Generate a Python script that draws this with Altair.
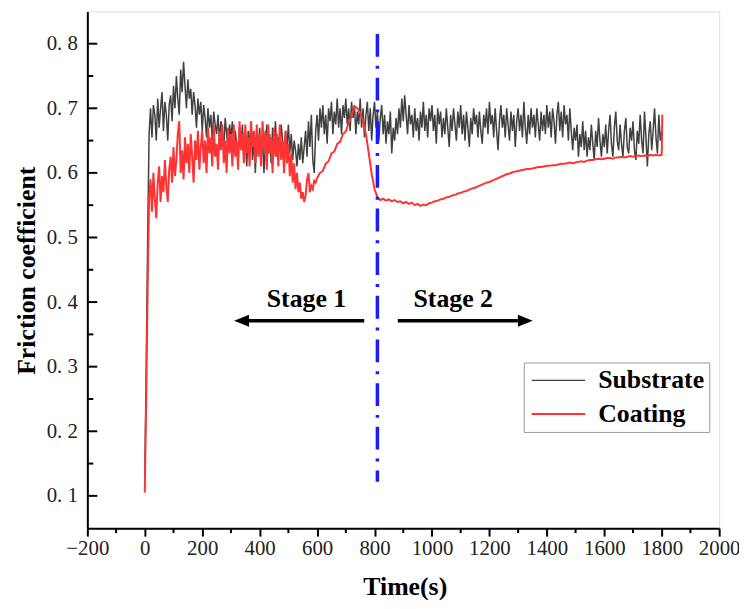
import altair as alt
import pandas as pd

# ---------------- data ----------------
substrate_time = list(range(0, 1801, 5))
substrate_mu = [
    # 0-95
    0.130, 0.300, 0.500, 0.660, 0.700, 0.655, 0.705, 0.690, 0.650, 0.715,
    0.670, 0.700, 0.725, 0.665, 0.710, 0.690, 0.650, 0.705, 0.720, 0.680,
    # 100-195
    0.735, 0.700, 0.750, 0.715, 0.690, 0.760, 0.725, 0.772, 0.735, 0.700,
    0.745, 0.715, 0.730, 0.690, 0.725, 0.705, 0.670, 0.715, 0.690, 0.710,
    # 200-295
    0.665, 0.705, 0.685, 0.655, 0.700, 0.670, 0.690, 0.650, 0.695, 0.675,
    0.660, 0.690, 0.650, 0.680, 0.665, 0.640, 0.685, 0.660, 0.635, 0.675,
    # 300-395
    0.655, 0.680, 0.635, 0.665, 0.645, 0.620, 0.670, 0.640, 0.675, 0.625,
    0.655, 0.610, 0.665, 0.640, 0.680, 0.620, 0.650, 0.600, 0.660, 0.635,
    # 400-495
    0.670, 0.625, 0.655, 0.600, 0.645, 0.675, 0.630, 0.660, 0.615, 0.670,
    0.640, 0.680, 0.625, 0.655, 0.635, 0.675, 0.650, 0.615, 0.665, 0.640,
    # 500-595
    0.675, 0.630, 0.660, 0.620, 0.650, 0.635, 0.610, 0.645, 0.620, 0.655,
    0.615, 0.640, 0.665, 0.625, 0.680, 0.640, 0.690, 0.620, 0.600, 0.665,
    # 600-695
    0.690, 0.650, 0.700, 0.670, 0.705, 0.660, 0.690, 0.645, 0.700, 0.680,
    0.710, 0.660, 0.695, 0.675, 0.715, 0.670, 0.700, 0.660, 0.705, 0.685,
    # 700-795
    0.715, 0.675, 0.700, 0.665, 0.710, 0.685, 0.705, 0.660, 0.695, 0.675,
    0.715, 0.670, 0.700, 0.655, 0.690, 0.710, 0.665, 0.700, 0.650, 0.690,
    # 800-895
    0.710, 0.670, 0.695, 0.650, 0.685, 0.705, 0.660, 0.690, 0.645, 0.680,
    0.660, 0.695, 0.630, 0.670, 0.650, 0.685, 0.660, 0.700, 0.670, 0.715,
    # 900-995
    0.680, 0.720, 0.690, 0.660, 0.705, 0.675, 0.690, 0.655, 0.700, 0.665,
    0.685, 0.650, 0.695, 0.670, 0.710, 0.665, 0.690, 0.655, 0.700, 0.680,
    # 1000-1095
    0.705, 0.665, 0.690, 0.645, 0.700, 0.675, 0.695, 0.655, 0.685, 0.660,
    0.700, 0.670, 0.640, 0.690, 0.665, 0.700, 0.675, 0.650, 0.695, 0.670,
    # 1100-1195
    0.705, 0.660, 0.690, 0.650, 0.695, 0.670, 0.640, 0.685, 0.660, 0.700,
    0.675, 0.690, 0.655, 0.695, 0.665, 0.645, 0.690, 0.670, 0.700, 0.660,
    # 1200-1295
    0.710, 0.675, 0.690, 0.655, 0.700, 0.665, 0.635, 0.680, 0.705, 0.670,
    0.690, 0.655, 0.700, 0.675, 0.650, 0.695, 0.665, 0.690, 0.640, 0.680,
    # 1300-1395
    0.700, 0.665, 0.690, 0.655, 0.710, 0.670, 0.645, 0.690, 0.660, 0.700,
    0.670, 0.690, 0.655, 0.700, 0.675, 0.650, 0.695, 0.665, 0.690, 0.660,
    # 1400-1495
    0.705, 0.670, 0.695, 0.655, 0.700, 0.680, 0.645, 0.690, 0.710, 0.665,
    0.695, 0.655, 0.705, 0.675, 0.690, 0.650, 0.700, 0.665, 0.635, 0.670,
    # 1500-1595
    0.650, 0.675, 0.625, 0.660, 0.640, 0.680, 0.635, 0.665, 0.625, 0.655,
    0.635, 0.675, 0.645, 0.620, 0.665, 0.640, 0.685, 0.650, 0.625, 0.660,
    # 1600-1695
    0.640, 0.675, 0.630, 0.665, 0.690, 0.645, 0.625, 0.670, 0.695, 0.650,
    0.635, 0.675, 0.645, 0.625, 0.665, 0.685, 0.640, 0.630, 0.670, 0.650,
    # 1700-1795
    0.680, 0.635, 0.620, 0.665, 0.645, 0.690, 0.650, 0.630, 0.695, 0.655,
    0.610, 0.660, 0.680, 0.635, 0.665, 0.700, 0.655, 0.630, 0.690, 0.650,
    # 1800
    0.665,
]

coating_time = list(range(0, 600, 5)) + list(range(600, 1801, 10)) + [1802]
coating_mu = [
    # 0-95 (5 s)
    0.105, 0.250, 0.420, 0.560, 0.590, 0.540, 0.600, 0.560, 0.530, 0.585,
    0.610, 0.555, 0.595, 0.570, 0.620, 0.580, 0.555, 0.605, 0.625, 0.585,
    # 100-195
    0.640, 0.595, 0.620, 0.660, 0.680, 0.600, 0.635, 0.590, 0.655, 0.615,
    0.645, 0.600, 0.660, 0.625, 0.585, 0.650, 0.620, 0.665, 0.605, 0.640,
    # 200-295
    0.665, 0.615, 0.650, 0.600, 0.670, 0.630, 0.655, 0.610, 0.675, 0.625,
    0.645, 0.605, 0.665, 0.635, 0.675, 0.615, 0.650, 0.600, 0.670, 0.630,
    # 300-395
    0.660, 0.610, 0.675, 0.625, 0.650, 0.605, 0.680, 0.635, 0.660, 0.615,
    0.675, 0.630, 0.655, 0.610, 0.680, 0.640, 0.665, 0.615, 0.675, 0.625,
    # 400-495
    0.660, 0.610, 0.680, 0.635, 0.665, 0.605, 0.675, 0.630, 0.655, 0.600,
    0.670, 0.625, 0.660, 0.610, 0.675, 0.620, 0.650, 0.600, 0.665, 0.615,
    # 500-595
    0.645, 0.595, 0.630, 0.585, 0.615, 0.575, 0.600, 0.570, 0.585, 0.560,
    0.570, 0.555, 0.565, 0.590, 0.600, 0.570, 0.580, 0.575, 0.588, 0.585,
    # 600-690 (10 s)
    0.592, 0.600, 0.603, 0.614, 0.618, 0.630, 0.633, 0.645, 0.648, 0.660,
    # 700-790
    0.664, 0.678, 0.688, 0.703, 0.700, 0.693, 0.680, 0.660, 0.630, 0.598,
    # 800-890
    0.575, 0.562, 0.558, 0.560, 0.557, 0.559, 0.556, 0.558, 0.555, 0.556,
    # 900-990
    0.553, 0.555, 0.552, 0.554, 0.550, 0.552, 0.549, 0.551, 0.550, 0.553,
    # 1000-1090
    0.554, 0.556, 0.557, 0.559, 0.560, 0.562, 0.563, 0.565, 0.566, 0.568,
    # 1100-1190
    0.569, 0.571, 0.572, 0.574, 0.576, 0.577, 0.579, 0.581, 0.583, 0.585,
    # 1200-1290
    0.586, 0.588, 0.590, 0.592, 0.594, 0.596, 0.598, 0.599, 0.601, 0.602,
    # 1300-1390
    0.603, 0.604, 0.605, 0.606, 0.606, 0.607, 0.608, 0.609, 0.609, 0.610,
    # 1400-1490
    0.611, 0.611, 0.612, 0.612, 0.613, 0.614, 0.614, 0.615, 0.616, 0.615,
    # 1500-1590
    0.616, 0.617, 0.618, 0.617, 0.619, 0.620, 0.620, 0.621, 0.622, 0.621,
    # 1600-1690
    0.622, 0.623, 0.623, 0.622, 0.624, 0.624, 0.625, 0.624, 0.625, 0.626,
    # 1700-1790
    0.625, 0.626, 0.627, 0.626, 0.627, 0.626, 0.628, 0.627, 0.628, 0.627,
    # 1800, end spike
    0.628, 0.690,
]

series_names = ["Substrate", "Coating"]
series_colors = ["#404040", "#ff3333"]
series_widths = [1.5, 2.0]

x_ticks = [-200, 0, 200, 400, 600, 800, 1000, 1200, 1400, 1600, 1800, 2000]
x_minor = [-100, 100, 300, 500, 700, 900, 1100, 1300, 1500, 1700, 1900]
y_ticks = [0.1, 0.2, 0.3, 0.4, 0.5, 0.6, 0.7, 0.8]
y_minor = [0.15, 0.25, 0.35, 0.45, 0.55, 0.65, 0.75]

stage_boundary = 810          # s
stage_line_top = 0.815
stage_line_bottom = 0.122
stage_labels = ["Stage 1", "Stage 2"]
stage_label_x = [563, 1074]
stage_label_y = 0.392
arrow_y = 0.371
arrow_start = [764, 881]       # tail of each arrow
arrow_end = [363, 1299]        # base of the arrowhead
arrow_head_x = [337, 1325]     # arrowhead centre

# ---------------- build tables ----------------
rows = []
for t, v in zip(substrate_time, substrate_mu):
    rows.append({"t": t, "mu": v, "series": "Substrate", "o": 0})
for t, v in zip(coating_time, coating_mu):
    rows.append({"t": t, "mu": v, "series": "Coating", "o": 1})
df = pd.DataFrame(rows)

W, H = 637, 521
xs = alt.Scale(domain=[-200, 2000], nice=False, zero=False)
ys = alt.Scale(domain=[0.05, 0.85], nice=False, zero=False)

FONT = "Liberation Serif"

lines = alt.Chart(df).mark_line(clip=True).encode(
    x=alt.X("t:Q", scale=xs, axis=alt.Axis(
        values=x_ticks, format="d", title="Time(s)", grid=False,
        tickSize=8, tickWidth=2, tickColor="black",
        domainColor="black", domainWidth=2,
        labelFont=FONT, labelFontSize=21, labelColor="#222", labelPadding=2,
        titleFont=FONT, titleFontSize=26, titleFontWeight="bold", titleColor="black",
        titleX=320, titleY=67, titleBaseline="alphabetic", labelFlush=False)),
    y=alt.Y("mu:Q", scale=ys, axis=alt.Axis(
        values=y_ticks, title="Friction coefficient", grid=False,
        ticks=False, domainColor="black", domainWidth=2,
        labelExpr="replace(format(datum.value, '.1f'), '.', '. ')",
        labelFont=FONT, labelFontSize=21, labelColor="#222", labelPadding=10,
        titleFont=FONT, titleFontSize=26, titleFontWeight="bold", titleColor="black",
        titleX=-53, titleY=261, titleBaseline="alphabetic")),
    color=alt.Color("series:N", scale=alt.Scale(domain=series_names, range=series_colors),
                    sort=series_names,
                    legend=alt.Legend(title=None, orient="none", legendX=440, legendY=354,
                                      symbolType="M-2.7,0H2.7", symbolSize=400,
                                      symbolStrokeWidth=2, symbolOffset=17,
                                      labelOffset=27, rowPadding=8, padding=5,
                                      strokeColor="#999", fillColor="white",
                                      labelFont=FONT, labelFontSize=26,
                                      labelFontWeight="bold", labelColor="black")),
    strokeWidth=alt.StrokeWidth("series:N",
                                scale=alt.Scale(domain=series_names, range=series_widths),
                                legend=None),
    order="o:Q",
    detail="series:N",
)

boundary = alt.Chart(pd.DataFrame({"x": [stage_boundary], "y1": [stage_line_top],
                                   "y2": [stage_line_bottom]})).mark_rule(
    color="#1a1aff", strokeWidth=3.5, strokeDash=[23, 9, 3, 9]).encode(
    x=alt.X("x:Q", scale=xs), y=alt.Y("y1:Q", scale=ys), y2="y2:Q")

arrows_df = pd.DataFrame({"x1": arrow_start, "x2": arrow_end, "y": [arrow_y, arrow_y]})
arrow_lines = alt.Chart(arrows_df).mark_rule(color="black", strokeWidth=3.5).encode(
    x=alt.X("x1:Q", scale=xs), x2="x2:Q", y=alt.Y("y:Q", scale=ys))

head_left = alt.Chart(pd.DataFrame({"x": [arrow_head_x[0]], "y": [arrow_y]})).mark_point(
    shape="M-1,0L1,-0.8L1,0.8Z", size=225, filled=True, color="black", opacity=1).encode(
    x=alt.X("x:Q", scale=xs), y=alt.Y("y:Q", scale=ys))
head_right = alt.Chart(pd.DataFrame({"x": [arrow_head_x[1]], "y": [arrow_y]})).mark_point(
    shape="M1,0L-1,-0.8L-1,0.8Z", size=225, filled=True, color="black", opacity=1).encode(
    x=alt.X("x:Q", scale=xs), y=alt.Y("y:Q", scale=ys))

labels = alt.Chart(pd.DataFrame({"x": stage_label_x, "y": [stage_label_y] * 2,
                                 "txt": stage_labels})).mark_text(
    font=FONT, fontSize=26, fontWeight="bold", color="black",
    align="center", baseline="alphabetic").encode(
    x=alt.X("x:Q", scale=xs), y=alt.Y("y:Q", scale=ys), text="txt:N")

minor_x = alt.Chart(pd.DataFrame({"x": x_minor})).mark_rule(
    color="black", strokeWidth=2).encode(
    x=alt.X("x:Q", scale=xs), y=alt.value(H), y2=alt.value(H + 5))

major_y_in = alt.Chart(pd.DataFrame({"y": y_ticks})).mark_rule(
    color="black", strokeWidth=2).encode(
    y=alt.Y("y:Q", scale=ys), x=alt.value(0), x2=alt.value(10))
minor_y_in = alt.Chart(pd.DataFrame({"y": y_minor})).mark_rule(
    color="black", strokeWidth=2).encode(
    y=alt.Y("y:Q", scale=ys), x=alt.value(0), x2=alt.value(6))

chart = alt.layer(
    lines, boundary, arrow_lines, head_left, head_right, labels,
    minor_x, major_y_in, minor_y_in
).properties(
    width=W, height=H,
    padding={"left": 80, "top": 1, "right": 20, "bottom": 70},
    autosize=alt.AutoSizeParams(type="none"),
).configure_view(
    stroke="black", strokeWidth=2
).configure(background="white")

chart.save("out.html", embed_options={"renderer": "svg", "actions": False})
